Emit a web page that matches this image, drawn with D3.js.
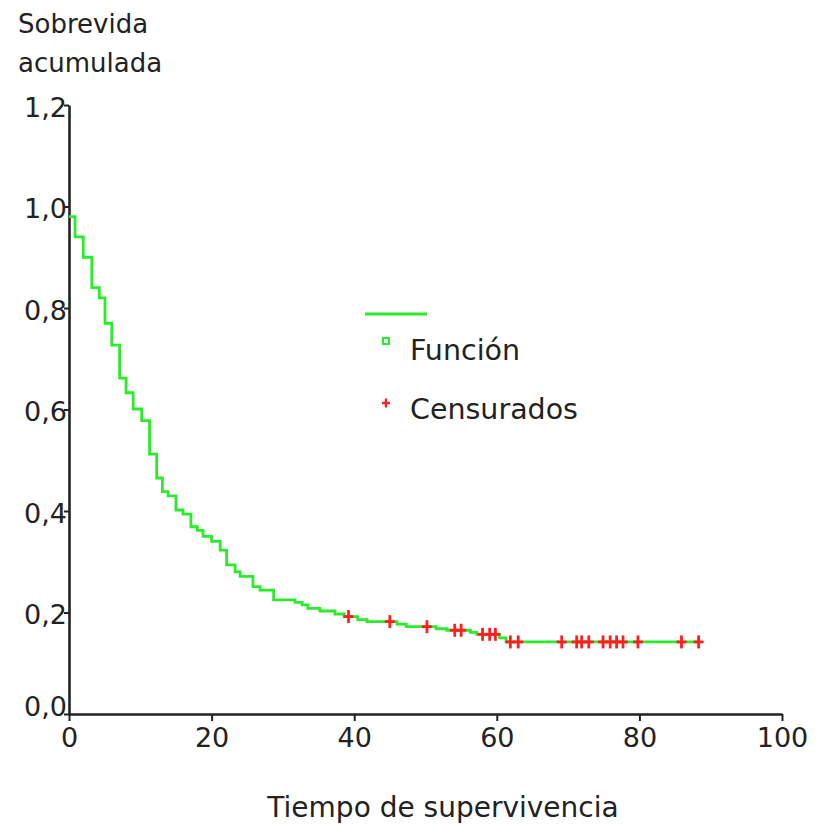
<!DOCTYPE html>
<html>
<head>
<meta charset="utf-8">
<script src="https://cdn.jsdelivr.net/npm/d3@7"></script>
<style>
  body { margin: 0; background: #fff; }
  text { font-family: "DejaVu Sans", Verdana, sans-serif; fill: #222; }
</style>
</head>
<body>
<svg id="chart"></svg>
<script>
// step times and cumulative survival (Kaplan-Meier)
var stepTimes = [0, 0.85, 2.0, 3.2, 4.25, 5.05, 6.0, 7.1, 8.0, 9.0, 10.2, 11.3, 12.3, 13.1, 13.9,
                 15.0, 16.0, 17.1, 18.0, 18.8, 20.0, 21.2, 22.1, 23.3, 24.0, 25.8, 26.8, 28.7,
                 31.7, 32.7, 33.5, 35.2, 37.3, 38.6, 40.5, 41.8, 46.0, 47.3, 51.5, 53.0, 56.3,
                 57.2, 60.4, 61.3];
var stepSurv = [0.98, 0.94, 0.90, 0.84, 0.82, 0.77, 0.727, 0.662, 0.633, 0.601, 0.578, 0.512, 0.465, 0.438, 0.430,
                0.402, 0.394, 0.369, 0.362, 0.350, 0.340, 0.323, 0.294, 0.280, 0.271, 0.251, 0.244, 0.225,
                0.220, 0.215, 0.208, 0.203, 0.197, 0.192, 0.186, 0.182, 0.177, 0.172, 0.168, 0.165, 0.161,
                0.157, 0.150, 0.142];
var lastTime = 88.3;

// censored observations
var censorTimes = [39.2, 45.0, 50.2, 54.1, 55.0, 58.0, 59.0, 59.8, 61.9, 63.0, 69.1, 71.2, 71.9, 72.9,
                   74.9, 75.9, 76.8, 77.7, 79.8, 85.9, 88.3];

var xTicks = [0, 20, 40, 60, 80, 100];
var yTicks = [0, 0.2, 0.4, 0.6, 0.8, 1.0, 1.2];

var width = 817;
var height = 825;

var green = "#2aec2a";
var red = "#ff1f1f";

var svg = d3.select("#chart")
    .attr("width", width)
    .attr("height", height);

var x = d3.scaleLinear().domain([0, 100]).range([69, 782]);
var y = d3.scaleLinear().domain([0, 1.2]).range([714, 105]);

var locale = d3.formatLocale({decimal: ",", thousands: ".", grouping: [3], currency: ["", ""]});
var fmt = locale.format(".1f");

// survival value at time t (step function)
var survAt = function (t) {
    var i = d3.bisectRight(stepTimes, t) - 1;
    return stepSurv[Math.max(i, 0)];
};

var lineData = stepTimes.map(function (t, i) { return [t, stepSurv[i]]; });
lineData.push([lastTime, stepSurv[stepSurv.length - 1]]);

// axes
var xAxis = svg.append("g")
    .attr("transform", "translate(0," + y(0) + ")")
    .call(d3.axisBottom(x).tickValues(xTicks).tickSizeInner(7).tickSizeOuter(0).tickPadding(7));

var yAxis = svg.append("g")
    .attr("transform", "translate(" + x(0) + ",0)")
    .call(d3.axisLeft(y).tickValues(yTicks).tickFormat(fmt).tickSizeInner(5).tickSizeOuter(0).tickPadding(-3));

[xAxis, yAxis].forEach(function (ax) {
    ax.select(".domain").attr("stroke", "#222").attr("stroke-width", 2.6);
    ax.selectAll(".tick line").attr("stroke", "#222").attr("stroke-width", 2);
    ax.selectAll(".tick text")
        .attr("fill", "#222")
        .style("font-family", "'DejaVu Sans', Verdana, sans-serif")
        .style("font-size", "27px");
});
yAxis.selectAll(".tick text").attr("dy", function (d) { return d === 0 ? "0.05em" : "0.42em"; });

// survival curve
svg.append("path")
    .datum(lineData)
    .attr("fill", "none")
    .attr("stroke", green)
    .attr("stroke-width", 2.8)
    .attr("d", d3.line()
        .x(function (d) { return x(d[0]); })
        .y(function (d) { return y(d[1]); })
        .curve(d3.curveStepAfter));

// censor marks
var plus = function (sel, w, h) {
    sel.append("line").attr("x1", -w / 2).attr("x2", w / 2).attr("y1", 0).attr("y2", 0);
    sel.append("line").attr("x1", 0).attr("x2", 0).attr("y1", -h / 2).attr("y2", h / 2);
};

svg.append("g")
    .attr("stroke", red)
    .attr("stroke-width", 2.8)
    .selectAll("g")
    .data(censorTimes)
    .enter()
    .append("g")
    .attr("transform", function (d) { return "translate(" + x(d) + "," + y(survAt(d)) + ")"; })
    .each(function () { plus(d3.select(this), 10, 13); });

// axis titles
var title = svg.append("text")
    .attr("x", 18)
    .attr("y", 33)
    .style("font-size", "26px");
title.append("tspan").attr("x", 18).text("Sobrevida");
title.append("tspan").attr("x", 18).attr("y", 72).text("acumulada");

svg.append("text")
    .attr("x", 443)
    .attr("y", 817)
    .attr("text-anchor", "middle")
    .style("font-size", "28px")
    .text("Tiempo de supervivencia");

// legend
var legend = svg.append("g");
legend.append("line")
    .attr("x1", 365).attr("x2", 427)
    .attr("y1", 314).attr("y2", 314)
    .attr("stroke", green).attr("stroke-width", 3);
legend.append("rect")
    .attr("x", 383).attr("y", 338)
    .attr("width", 6).attr("height", 6)
    .attr("fill", "#fff").attr("stroke", green).attr("stroke-width", 2);
legend.append("text")
    .attr("x", 410).attr("y", 360)
    .style("font-size", "28.5px")
    .text("Función");
var lp = legend.append("g")
    .attr("transform", "translate(386,403)")
    .attr("stroke", red).attr("stroke-width", 2.4);
plus(lp, 8, 9);
legend.append("text")
    .attr("x", 410).attr("y", 419)
    .style("font-size", "28.5px")
    .text("Censurados");
</script>
</body>
</html>
